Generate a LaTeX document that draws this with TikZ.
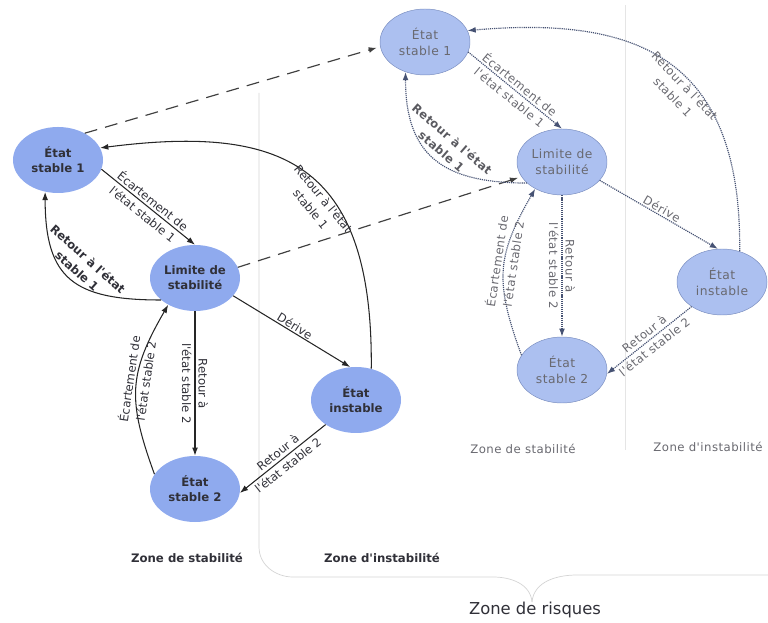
\documentclass[tikz,border=0pt]{standalone}
\usepackage{fontspec}
\setmainfont{DejaVu Sans}[Ligatures=TeXOff]
\newfontfamily\photofont[LetterSpace=4,Ligatures=TeXOff]{DejaVu Sans}
\usepackage{tikz}
\usetikzlibrary{arrows.meta,shapes.geometric}

\definecolor{nodeblue}{RGB}{143,170,238}
\definecolor{paleblue}{RGB}{172,192,240}
\definecolor{paleedge}{RGB}{120,140,190}
\definecolor{dotline}{RGB}{70,82,115}
\definecolor{textgray}{RGB}{48,48,56}
\definecolor{photogray}{RGB}{105,105,112}
\definecolor{zoneline}{RGB}{212,212,212}

\tikzset{
  etat/.style={ellipse, fill=nodeblue, minimum width=2.7cm, minimum height=1.98cm,
    inner sep=0pt, align=center, text=textgray,
    font=\fontsize{10}{13}\selectfont\bfseries},
  etatpale/.style={etat, fill=paleblue, draw=paleedge, line width=0.4pt,
    text=photogray, font=\photofont\fontsize{10.5}{13.5}\selectfont},
  trans/.style={->, line width=0.9pt, draw=black!85},
  transpale/.style={->, line width=1pt, draw=dotline, dash pattern=on 1pt off 0.8pt},
  lbl/.style={font=\fontsize{10}{14}\selectfont, text=textgray, align=center, inner sep=1pt},
  lblbold/.style={lbl, font=\fontsize{10}{14}\selectfont\bfseries},
  lblpale/.style={lbl, text=photogray, font=\photofont\fontsize{10}{14}\selectfont},
  lblpalebold/.style={lbl, text=textgray!80, font=\photofont\fontsize{10}{14}\selectfont\bfseries},
  lien/.style={->, line width=1pt, draw=black!75, dash pattern=on 11pt off 7pt, shorten >=3pt},
  zone/.style={font=\fontsize{10}{12}\selectfont\bfseries, text=textgray},
  zonepale/.style={font=\photofont\fontsize{10}{12}\selectfont, text=photogray},
}

\begin{document}
\begin{tikzpicture}[x=0.03cm, y=0.03cm, >={Latex[length=7pt,width=5pt]}]
  \useasboundingbox (0,0) rectangle (768,622);

  % zone separators
  \draw[zoneline, line width=0.6pt] (259,529) -- (259,75) to[out=-90,in=180] (293,45)
    -- (493,45) to[out=0,in=95] (532,20);
  \draw[zoneline, line width=0.6pt] (532,20) to[out=85,in=180] (577,47) -- (768,47);
  \draw[zoneline!60, line width=0.6pt] (625,617) -- (625,172);

  % define the states (left)
  \node[etat] (es1) at (58,462) {État\\stable 1};
  \node[etat] (ls) at (195,344) {Limite de\\stabilité};
  \node[etat] (ei) at (356,222) {État\\instable};
  \node[etat] (es2) at (195,133) {État\\stable 2};

  % define the states (right)
  \node[etatpale] (res1) at (425,580) {État\\stable 1};
  \node[etatpale] (rls) at (562,460) {Limite de\\stabilité};
  \node[etatpale] (rei) at (722,340) {État\\instable};
  \node[etatpale] (res2) at (562,252) {État\\stable 2};

  % draw the transitions (left)
  \draw[trans] (es1.-12) -- node[lbl, sloped, midway]{Écartement de\\l'état stable 1} (ls.north);
  \draw[trans] (ls.213) to[out=180, in=-90, looseness=1.4]
    node[lblbold, sloped, above=3pt, pos=0.5]{Retour à l'état\\stable 1} (es1.248);
  \draw[trans] (ei.64) .. controls +(2,208) and +(180,23) ..
    node[lbl, sloped, below, pos=0.4]{Retour à l'état\\stable 1} (es1.16);
  \draw[trans] (ls.-25) -- node[lbl, sloped, above, midway]{Dérive} (ei.100);
  \draw[trans] (ls.south) -- node[lbl, rotate=-90, midway]{Retour à\\l'état stable 2} (es2.north);
  \draw[trans] (es2.160) to[out=110, in=240, looseness=1.2]
    node[lbl, sloped, pos=0.55]{Écartement de\\l'état stable 2} (ls.225);
  \draw[trans] (ei.219) -- node[lbl, sloped, midway]{Retour à\\l'état stable 2} (es2.-5);

  % draw the links between both views
  \draw[lien] (es1.45) -- (res1.186);
  \draw[lien] (ls.14) -- (rls.200);

  % draw the transitions (right)
  \draw[transpale] (res1.-13) -- node[lblpale, sloped, midway]{Écartement de\\l'état stable 1} (rls.north);
  \draw[transpale] (rls.211) to[out=180, in=-90, looseness=1.3]
    node[lblpalebold, sloped, above=3pt, pos=0.5]{Retour à l'état\\stable 1} (res1.237);
  \draw[transpale] (rei.60) .. controls +(2,192) and +(172,15) ..
    node[lblpale, sloped, below, pos=0.42]{Retour à l'état\\stable 1} (res1.15);
  \draw[transpale] (rls.-26) -- node[lblpale, sloped, above, midway]{Dérive} (rei.97);
  \draw[transpale] (rls.south) -- node[lblpale, rotate=-90, midway]{Retour à\\l'état stable 2} (res2.north);
  \draw[transpale] (res2.160) to[out=110, in=240, looseness=1.2]
    node[lblpale, sloped, pos=0.55]{Écartement de\\l'état stable 2} (rls.225);
  \draw[transpale] (rei.219) -- node[lblpale, sloped, midway]{Retour à\\l'état stable 2} (res2.-5);

  % zone names
  \node[zone] (zstab) at (187,64) {Zone de stabilité};
  \node[zone] (zinst) at (382,64) {Zone d'instabilité};
  \node[zonepale] (rzstab) at (523,173) {Zone de stabilité};
  \node[zonepale] (rzinst) at (708,175) {Zone d'instabilité};
  \node[font=\fontsize{14}{16}\selectfont, text=textgray] (risques) at (535,12) {Zone de risques};
\end{tikzpicture}
\end{document}
